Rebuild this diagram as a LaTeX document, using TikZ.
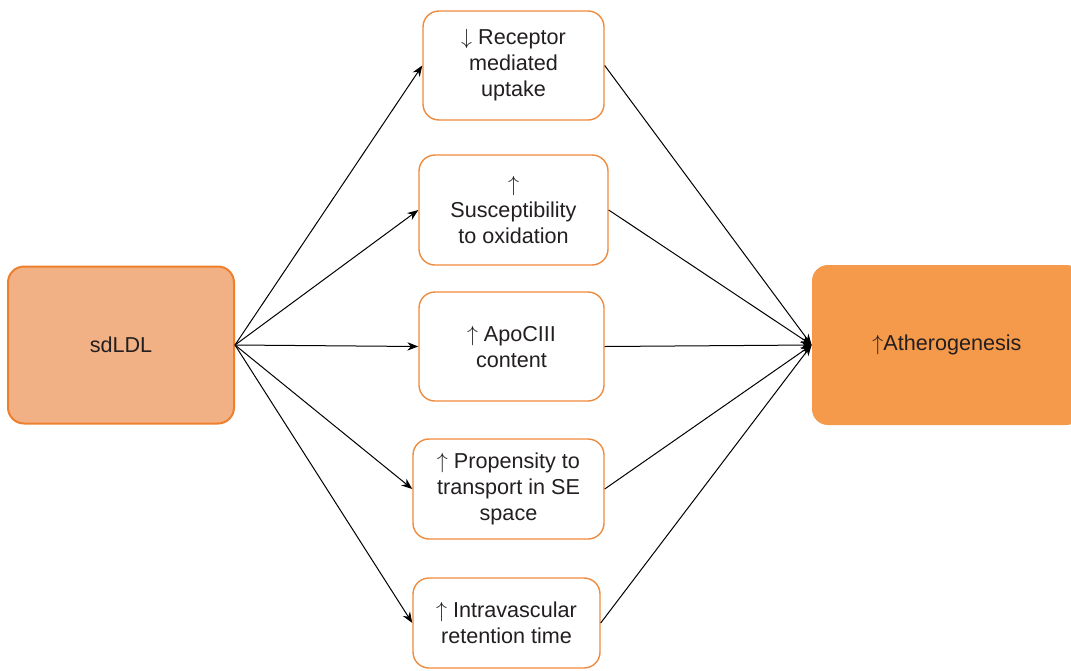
\documentclass[tikz,border=0pt]{standalone}
\usepackage{fontspec}
\setmainfont{Liberation Sans}
\usetikzlibrary{arrows.meta}
\definecolor{ldlfill}{HTML}{F2B184}
\definecolor{ldledge}{HTML}{EE7F2D}
\definecolor{athfill}{HTML}{F5994A}
\definecolor{boxedge}{HTML}{F08A3C}
\definecolor{txt}{HTML}{231F20}
\begin{document}
\begin{tikzpicture}[x=0.5pt,y=-0.5pt,
  every node/.style={font=\fontsize{10.8}{13}\selectfont,text=txt,align=center},
  effect/.style={draw=boxedge,line width=0.7pt,rounded corners=8pt,fill=white,inner sep=0pt},
  source/.style={draw=ldledge,line width=1pt,fill=ldlfill,rounded corners=8pt,inner sep=0pt},
  result/.style={fill=athfill,rounded corners=8pt,inner sep=0pt},
  link/.style={-{Stealth[length=5.5pt,width=4.2pt]},line width=0.5pt,black}]
\useasboundingbox (0,0) rectangle (1071,670);
\clip (0,0) rectangle (1071,670);
% boxes
\node[source,minimum width=113pt,minimum height=78.5pt] (ldl) at (121,345) {sdLDL};
\node[result,minimum width=135pt,minimum height=80pt] (ath) at (947,345) {$\uparrow$Atherogenesis};
\node[effect,minimum width=90.5pt,minimum height=54.5pt] (rec) at (513.5,65.5) {$\downarrow$ Receptor\\mediated\\uptake};
\node[effect,minimum width=94.5pt,minimum height=55pt] (ox) at (513.5,210) {$\uparrow$\\Susceptibility\\to oxidation};
\node[effect,minimum width=92.5pt,minimum height=54.5pt] (apo) at (511.5,346.5) {$\uparrow$ ApoCIII\\content};
\node[effect,minimum width=95.5pt,minimum height=50pt] (se) at (508.5,489) {$\uparrow$ Propensity to\\transport in SE\\space};
\node[effect,minimum width=93.5pt,minimum height=45pt] (ret) at (506.5,623) {$\uparrow$ Intravascular\\retention time};
% arrows
\foreach \b in {rec,ox,apo,se,ret}{
  \draw[link] (ldl.east) -- (\b.west);
  \draw[link] (\b.east) -- (ath.west);
}
\end{tikzpicture}
\end{document}
